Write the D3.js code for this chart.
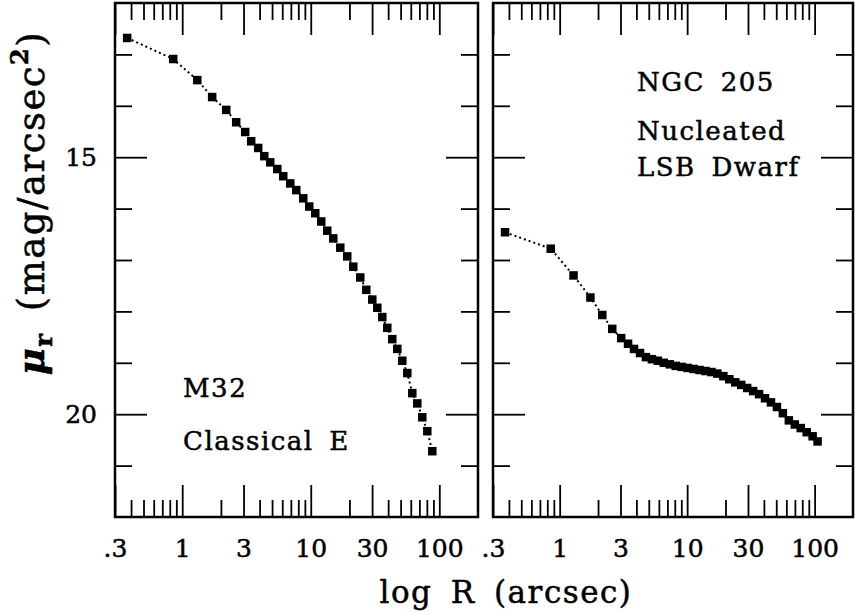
<!DOCTYPE html>
<html>
<head>
<meta charset="utf-8">
<script src="https://cdn.jsdelivr.net/npm/d3@7"></script>
<style>
  body { margin: 0; background: #fff; }
  text { font-family: "DejaVu Serif", serif; fill: #000; stroke: #000; stroke-width: 0.5px; }
</style>
</head>
<body>
<div id="chart"></div>
<script>
// M32 profile: radius (arcsec) and surface brightness (mag/arcsec^2)
var m32R = [0.373, 0.851, 1.31, 1.71, 2.20, 2.63, 3.09, 3.44, 3.90, 4.35, 4.84, 5.49, 6.11, 6.93, 7.71,
  8.74, 9.73, 10.84, 12.07, 13.44, 14.97, 16.97, 19.23, 21.42, 24.28, 27.04, 30.11, 32.93, 36.02,
  39.38, 43.07, 47.12, 51.54, 56.36, 61.64, 67.42, 73.74, 80.65, 88.21];
var m32Mu = [12.68, 13.09, 13.50, 13.83, 14.08, 14.32, 14.51, 14.69, 14.82, 14.98, 15.10, 15.23, 15.37,
  15.51, 15.64, 15.80, 15.96, 16.09, 16.25, 16.43, 16.58, 16.76, 16.93, 17.13, 17.34, 17.58, 17.77,
  17.93, 18.11, 18.32, 18.54, 18.73, 18.96, 19.20, 19.59, 19.79, 20.06, 20.33, 20.72];

// NGC 205 profile
var ngcR = [0.373, 0.851, 1.285, 1.743, 2.16, 2.585, 3.04, 3.44, 3.83, 4.27, 4.75, 5.29, 5.89, 6.56,
  7.31, 8.14, 9.06, 10.09, 11.24, 12.51, 13.93, 15.51, 17.28, 19.23, 21.42, 23.85, 26.56, 29.57,
  32.93, 36.67, 40.83, 45.46, 50.62, 56.36, 62.76, 69.89, 77.82, 86.64, 96.47, 105.5];
var ngcMu = [16.46, 16.78, 17.30, 17.73, 18.07, 18.34, 18.52, 18.63, 18.73, 18.81, 18.89, 18.93, 18.96,
  19.00, 19.03, 19.06, 19.08, 19.10, 19.12, 19.14, 19.16, 19.18, 19.21, 19.26, 19.32, 19.38, 19.43,
  19.49, 19.55, 19.61, 19.69, 19.77, 19.86, 19.98, 20.12, 20.20, 20.27, 20.35, 20.43, 20.53];

var xMajor = [0.3, 1, 3, 10, 30, 100];
var xMajorLabels = [".3", "1", "3", "10", "30", "100"];
var xMinor = [0.4, 0.5, 0.6, 0.7, 0.8, 0.9, 2, 4, 5, 6, 7, 8, 9, 20, 40, 50, 60, 70, 80, 90];
var yMajor = [15, 20];
var yMinor = [13, 14, 16, 17, 18, 19, 21];

var width = 855, height = 615;
var plotTop = 3, plotBottom = 517;

var svg = d3.select("#chart").append("svg")
  .attr("width", width)
  .attr("height", height);

var y = d3.scaleLinear().domain([12, 22]).range([plotTop, plotBottom]);

var panels = [
  { x0: 115, x1: 478, R: m32R, mu: m32Mu, yLabels: true,
    notes: [{ t: "M32", x: 183, y: 397 }, { t: "Classical E", x: 183, y: 450 }] },
  { x0: 493, x1: 853, R: ngcR, mu: ngcMu, yLabels: false,
    notes: [{ t: "NGC 205", x: 637, y: 91 }, { t: "Nucleated", x: 637, y: 140 }, { t: "LSB Dwarf", x: 637, y: 176 }] }
];

var bigTick = 32, smallTick = 17;

panels.forEach(function(p) {
  var x = d3.scaleLog().domain([0.3, 200]).range([p.x0, p.x1]);
  var w = p.x1 - p.x0, h = plotBottom - plotTop;

  // bottom axis
  var gb = svg.append("g").attr("transform", "translate(0," + plotBottom + ")");
  gb.call(d3.axisBottom(x).tickValues(xMajor).tickSize(-bigTick).tickPadding(22)
    .tickFormat(function(d, i) { return xMajorLabels[i]; }));
  gb.append("g").call(d3.axisBottom(x).tickValues(xMinor).tickSize(-smallTick).tickFormat(""));

  // top axis
  var gt = svg.append("g").attr("transform", "translate(0," + plotTop + ")");
  gt.call(d3.axisTop(x).tickValues(xMajor).tickSize(-bigTick).tickFormat(""));
  gt.append("g").call(d3.axisTop(x).tickValues(xMinor).tickSize(-smallTick).tickFormat(""));

  // left axis
  var gl = svg.append("g").attr("transform", "translate(" + p.x0 + ",0)");
  gl.call(d3.axisLeft(y).tickValues(yMajor).tickSize(-bigTick).tickPadding(18)
    .tickFormat(p.yLabels ? d3.format("d") : ""));
  gl.append("g").call(d3.axisLeft(y).tickValues(yMinor).tickSize(-smallTick).tickFormat(""));

  // right axis
  var gr = svg.append("g").attr("transform", "translate(" + p.x1 + ",0)");
  gr.call(d3.axisRight(y).tickValues(yMajor).tickSize(-bigTick).tickFormat(""));
  gr.append("g").call(d3.axisRight(y).tickValues(yMinor).tickSize(-smallTick).tickFormat(""));

  svg.selectAll(".domain").remove();
  svg.selectAll(".tick line").attr("stroke", "#000").attr("stroke-width", 1.8);
  svg.selectAll(".tick text").style("font-family", "DejaVu Serif").style("font-size", "25px")
    .attr("fill", "#000").attr("stroke", "#000").attr("stroke-width", 0.5);

  // frame
  svg.append("rect")
    .attr("x", p.x0).attr("y", plotTop)
    .attr("width", w).attr("height", h)
    .attr("fill", "none").attr("stroke", "#000").attr("stroke-width", 2.5);

  var data = p.R.map(function(r, i) { return { r: r, mu: p.mu[i] }; });

  svg.append("path")
    .datum(data)
    .attr("fill", "none")
    .attr("stroke", "#000")
    .attr("stroke-width", 2)
    .attr("stroke-dasharray", "2,3")
    .attr("d", d3.line()
      .x(function(d) { return x(d.r); })
      .y(function(d) { return y(d.mu); }));

  svg.selectAll(null)
    .data(data)
    .enter()
    .append("rect")
      .attr("x", function(d) { return x(d.r) - 4.25; })
      .attr("y", function(d) { return y(d.mu) - 4.25; })
      .attr("width", 8.5)
      .attr("height", 8.5)
      .attr("fill", "#000");

  p.notes.forEach(function(n) {
    svg.append("text")
      .attr("x", n.x).attr("y", n.y)
      .style("font-size", "26px")
      .style("letter-spacing", "1.5px")
      .style("word-spacing", "6px")
      .text(n.t);
  });
});

// axis titles
svg.append("text")
  .attr("x", 506).attr("y", 603)
  .attr("text-anchor", "middle")
  .style("font-size", "31px")
  .style("letter-spacing", "1.5px")
  .style("word-spacing", "7px")
  .text("log R (arcsec)");

var yt = svg.append("text")
  .attr("transform", "translate(44,203) rotate(-90)")
  .attr("text-anchor", "middle")
  .style("font-size", "37px")
  .style("letter-spacing", "1.5px");
yt.append("tspan").style("font-style", "italic").style("font-weight", "bold").text("μ");
yt.append("tspan").attr("dy", 8).style("font-size", "24px").style("font-weight", "bold").text("r");
yt.append("tspan").attr("dy", -8).style("word-spacing", "8px").text(" (mag/arcsec");
yt.append("tspan").attr("dy", -16).style("font-size", "24px").style("font-weight", "bold").text("2");
yt.append("tspan").attr("dy", 16).text(")");
</script>
</body>
</html>
